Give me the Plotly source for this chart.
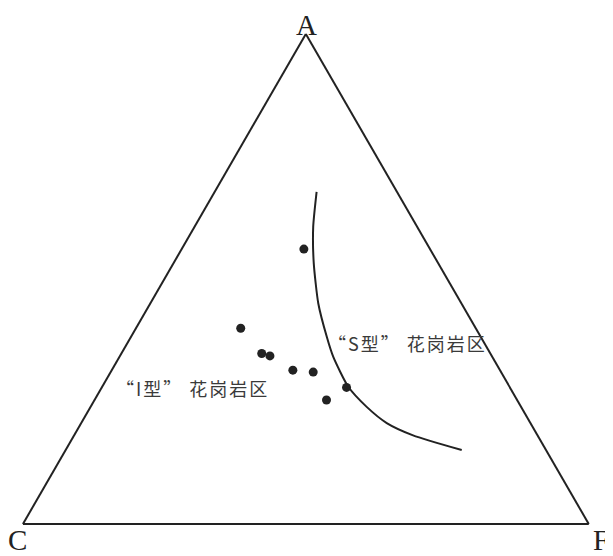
import plotly.graph_objects as go

W, H = 613, 556
OFF = 8  # page body margin offset compensation

# Sample points (A, C, F proportions)
pts_A = [0.561, 0.399, 0.348, 0.343, 0.314, 0.310, 0.279, 0.253]
pts_C = [0.223, 0.415, 0.404, 0.392, 0.366, 0.332, 0.289, 0.337]
pts_F = [0.216, 0.185, 0.248, 0.265, 0.320, 0.358, 0.433, 0.410]

# Boundary curve between I-type and S-type granites
cur_A = [0.678, 0.607, 0.532, 0.450, 0.382, 0.341, 0.280, 0.239, 0.206, 0.181, 0.151]
cur_C = [0.142, 0.184, 0.220, 0.253, 0.272, 0.281, 0.285, 0.273, 0.254, 0.220, 0.149]
cur_F = [0.180, 0.210, 0.248, 0.297, 0.346, 0.378, 0.435, 0.488, 0.540, 0.599, 0.700]

vertex_labels = ["A", "C", "F"]
region_labels = ["“S型” 花岗岩区", "“I型” 花岗岩区"]

ink = "#222222"

fig = go.Figure()
fig.add_trace(go.Scatterternary(
    a=cur_A, b=cur_C, c=cur_F, mode="lines",
    line=dict(color=ink, width=2, shape="spline", smoothing=0.6),
    hoverinfo="skip", showlegend=False))
fig.add_trace(go.Scatterternary(
    a=pts_A, b=pts_C, c=pts_F, mode="markers",
    marker=dict(color=ink, size=9),
    showlegend=False))

axis_style = dict(showline=True, linecolor=ink, linewidth=2, showgrid=False,
                  showticklabels=False, ticks="", title=dict(text=""), min=0)

x0, x1 = 22.7 - OFF, 589.0 - OFF
ytop, ybot = 34.0 - OFF, 524.0 - OFF
fig.update_layout(
    width=W, height=H,
    margin=dict(l=0, r=0, t=0, b=0, autoexpand=False),
    paper_bgcolor="white",
    ternary=dict(
        sum=1,
        bgcolor="white",
        domain=dict(x=[x0 / W, x1 / W], y=[1 - ybot / H, 1 - ytop / H]),
        aaxis=axis_style, baxis=axis_style, caxis=axis_style,
    ),
    showlegend=False,
)

def px(x, y):
    return (x - OFF) / W, 1 - (y - OFF) / H

serif = dict(family="Liberation Serif", size=29, color=ink)
for lab, (x, y) in zip(vertex_labels, [(306.5, 25), (17.5, 540), (601, 540)]):
    xx, yy = px(x, y)
    fig.add_annotation(x=xx, y=yy, xref="paper", yref="paper", text=lab,
                       showarrow=False, font=serif, xanchor="center", yanchor="middle",
                       borderpad=0)

cjk = dict(family="Noto Sans CJK SC", size=18, color="#3a3a3a")
for lab, (x, y) in zip(region_labels, [(407, 343), (192, 388)]):
    xx, yy = px(x, y)
    fig.add_annotation(x=xx, y=yy, xref="paper", yref="paper",
                       text='<span style="letter-spacing:2px">' + lab + '</span>',
                       showarrow=False, font=cjk, xanchor="center", yanchor="middle")

fig.write_html("out.html")
